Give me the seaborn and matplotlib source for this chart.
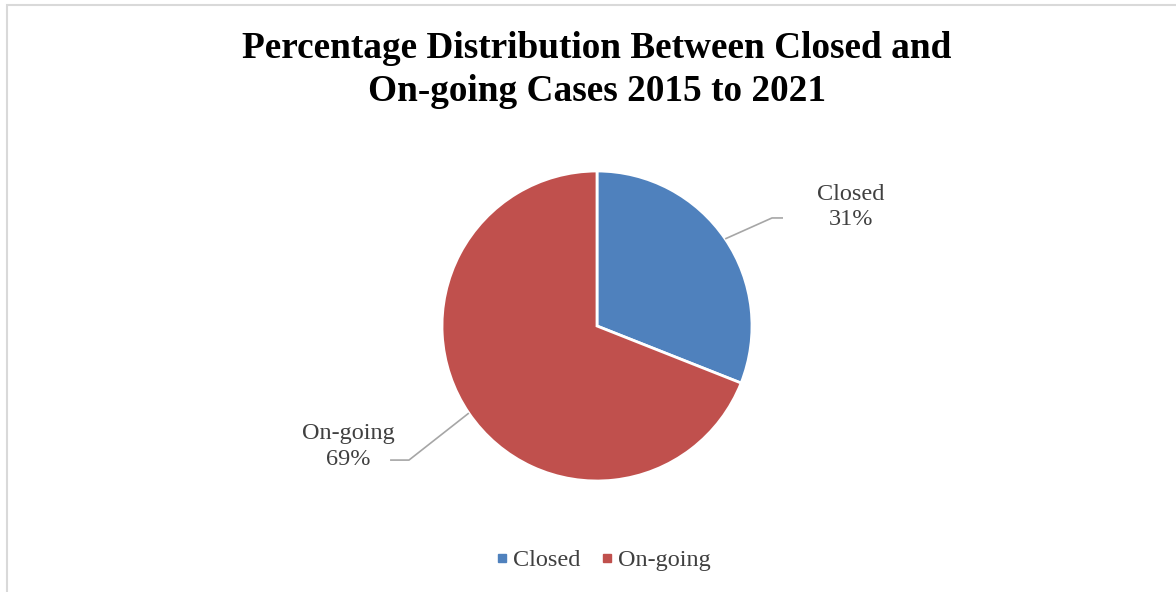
import numpy as np
import matplotlib
matplotlib.use("Agg")
import matplotlib.pyplot as plt
from matplotlib.patches import Rectangle
from matplotlib.lines import Line2D
import seaborn as sns

categories = ["Closed", "On-going"]
values = [31, 69]
colors = ["#4F81BD", "#C0504D"]
title = "Percentage Distribution Between Closed and\nOn-going Cases 2015 to 2021"

sns.set_theme(style="white")
plt.rcParams["font.family"] = ["Liberation Serif", "DejaVu Serif"]

W, H = 1176, 592
fig = plt.figure(figsize=(W / 100, H / 100), dpi=100)
fig.patch.set_facecolor("white")

cx, cy, R = 597, 326, 155
ax = fig.add_axes([0, 0, 1, 1])
palette = sns.color_palette(colors)
wedges, _ = ax.pie(values, colors=palette, startangle=90, counterclock=False,
                   radius=1.0, wedgeprops=dict(edgecolor="white", linewidth=2))
ax.set_xlim(-cx / R, (W - cx) / R)
ax.set_ylim(-(H - cy) / R, cy / R)
ax.set_aspect("equal", adjustable="box")
ax.axis("off")

# data labels with leader lines
label_specs = [
    dict(elbow=(1.129, 0.697), end=(1.20, 0.697), text=(1.639, 0.768)),
    dict(elbow=(-1.213, -0.865), end=(-1.335, -0.865), text=(-1.606, -0.777)),
]
total = sum(values)
for w, cat, v, spec in zip(wedges, categories, values, label_specs):
    ang = np.deg2rad((w.theta1 + w.theta2) / 2)
    x0, y0 = np.cos(ang), np.sin(ang)
    ax.plot([x0, spec["elbow"][0], spec["end"][0]],
            [y0, spec["elbow"][1], spec["end"][1]],
            color="#A6A6A6", lw=1.2, solid_capstyle="butt")
    ax.text(spec["text"][0], spec["text"][1],
            f"{cat}\n{round(100 * v / total)}%",
            ha="center", va="center", fontsize=17.5, color="#404040",
            linespacing=1.3)

fig.text(cx / W, 1 - 70 / H, title, ha="center", va="center",
         fontsize=26.8, fontweight="bold", color="black", linespacing=1.32)

handles = [Line2D([0], [0], marker="s", linestyle="none", markersize=5.5,
                  markerfacecolor=c, markeredgecolor=c) for c in colors]
fig.legend(handles, categories, loc="center", bbox_to_anchor=(cx / W + 4 / W, 1 - 560 / H),
           ncol=2, frameon=False, fontsize=17.5, handletextpad=0.0,
           columnspacing=0.65, labelcolor="#404040", handlelength=0.9)

fig.patches.append(Rectangle((6.5 / W, -0.05), 1.2, 1.05 - 4.5 / H,
                             transform=fig.transFigure, fill=False,
                             edgecolor="#D9D9D9", lw=1.5))

fig.savefig("out.png", dpi=100, facecolor="white")
